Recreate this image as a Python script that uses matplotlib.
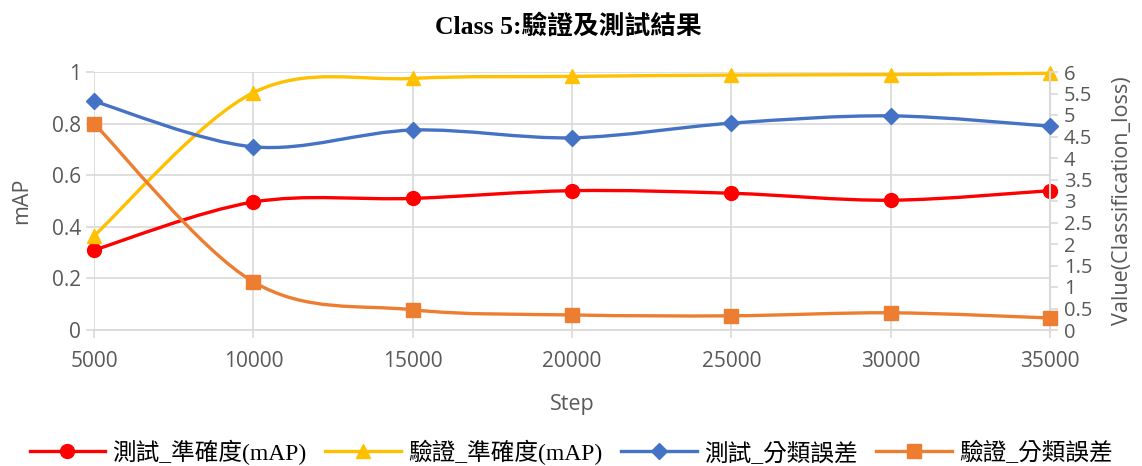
import matplotlib
matplotlib.use("Agg")
import matplotlib.pyplot as plt
from matplotlib.path import Path
from matplotlib.patches import PathPatch
from matplotlib.lines import Line2D
from matplotlib.ticker import FuncFormatter, MultipleLocator

steps = [5000, 10000, 15000, 20000, 25000, 30000, 35000]
test_map = [0.31, 0.496, 0.51, 0.54, 0.53, 0.503, 0.54]
val_map = [0.365, 0.92, 0.975, 0.983, 0.988, 0.99, 0.995]
test_loss = [5.32, 4.26, 4.65, 4.47, 4.81, 4.98, 4.74]
val_loss = [4.80, 1.12, 0.47, 0.35, 0.33, 0.40, 0.28]

labels = ["測試_準確度(mAP)", "驗證_準確度(mAP)", "測試_分類誤差", "驗證_分類誤差"]
colors = ["#FF0000", "#FFC000", "#4472C4", "#ED7D31"]
markers = ["o", "^", "D", "s"]

tick_color = "#595959"
grid_color = "#D9D9D9"
num_font = ["Open Sans", "DejaVu Sans"]
cjk_font = ["Liberation Serif", "Noto Sans CJK TC"]

fig = plt.figure(figsize=(11.42, 4.66), dpi=100)
ax = fig.add_axes([94 / 1142, 1 - 330 / 466, (1050 - 94) / 1142, (330 - 72) / 466])
ax2 = ax.twinx()


def smooth_path(xs, ys):
    pts = list(zip(xs, ys))
    n = len(pts)
    verts = [pts[0]]
    codes = [Path.MOVETO]
    for i in range(n - 1):
        p0 = pts[i - 1] if i > 0 else pts[i]
        p1 = pts[i]
        p2 = pts[i + 1]
        p3 = pts[i + 2] if i + 2 < n else pts[i + 1]
        c1 = (p1[0] + (p2[0] - p0[0]) / 6, p1[1] + (p2[1] - p0[1]) / 6)
        c2 = (p2[0] - (p3[0] - p1[0]) / 6, p2[1] - (p3[1] - p1[1]) / 6)
        verts += [c1, c2, p2]
        codes += [Path.CURVE4] * 3
    return Path(verts, codes)


series = [(ax, test_map), (ax, val_map), (ax2, test_loss), (ax2, val_loss)]
for (a, ys), c, m in zip(series, colors, markers):
    patch = PathPatch(smooth_path(steps, ys), facecolor="none", edgecolor=c,
                      lw=2.4, zorder=3, clip_on=False)
    a.add_patch(patch)
    ms = 10 if m != "D" else 8
    a.plot(steps, ys, linestyle="none", marker=m, color=c, markersize=ms,
           zorder=4, clip_on=False)

ax.set_xlim(5000, 35000)
ax.set_ylim(0, 1)
ax2.set_ylim(0, 6)
ax.set_xticks(steps)
ax.set_yticks([0, 0.2, 0.4, 0.6, 0.8, 1.0])
ax2.yaxis.set_major_locator(MultipleLocator(0.5))

fmt = FuncFormatter(lambda v, p: ("%g" % round(v, 2)))
ax.yaxis.set_major_formatter(fmt)
ax2.yaxis.set_major_formatter(fmt)

ax.grid(True, color=grid_color, lw=1.2, zorder=0)
ax.set_axisbelow(True)

for a in (ax, ax2):
    for s in a.spines.values():
        s.set_visible(False)
ax.spines["bottom"].set_visible(True)
ax.spines["bottom"].set_color(grid_color)
ax.spines["bottom"].set_linewidth(1.2)
ax2.spines["right"].set_visible(True)
ax2.spines["right"].set_color(grid_color)
ax2.spines["right"].set_linewidth(1.5)

for a in (ax, ax2):
    a.tick_params(colors=tick_color, labelsize=15, length=6, width=1.2)
    for lab in a.get_xticklabels() + a.get_yticklabels():
        lab.set_family(num_font)
ax.tick_params(axis="both", color=grid_color)
ax2.tick_params(axis="y", color=grid_color, pad=4, labelsize=14.5)
ax.tick_params(axis="x", pad=9)

ax.set_xlabel("Step", fontsize=15.5, color=tick_color, family=num_font, labelpad=16)
ax.set_ylabel("mAP", fontsize=15.5, color=tick_color, family=num_font, labelpad=14)
ax2.set_ylabel("Value(Classification_loss)", fontsize=15.5, color=tick_color,
               family=num_font, labelpad=14)

fig.suptitle("Class 5:驗證及測試結果", x=568 / 1142, y=1 - 26 / 466, va="center",
             fontsize=18.5, fontweight="bold", family=cjk_font)

handles = [Line2D([], [], color=c, marker=m, lw=2.4, markersize=(10 if m != "D" else 8))
           for c, m in zip(colors, markers)]
leg = fig.legend(handles, labels, loc="center", bbox_to_anchor=(0.5, 1 - 452 / 466),
                 ncol=4, frameon=False, prop={"family": cjk_font, "size": 17},
                 handlelength=3.2, handletextpad=0.3, columnspacing=0.8)

fig.savefig("out.png", dpi=100)
